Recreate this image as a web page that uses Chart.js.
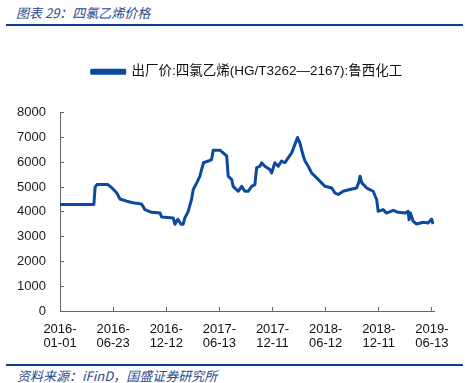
<!DOCTYPE html>
<html>
<head>
<meta charset="utf-8">
<script src="https://cdn.jsdelivr.net/npm/chart.js@4/dist/chart.umd.min.js"></script>
<style>
  body { margin: 0; width: 465px; height: 383px; background: #fff; position: relative; overflow: hidden; }
  .title { position: absolute; left: 16px; top: 3px; font: italic 13px "Noto Sans CJK SC", sans-serif; color: #2a4a8c; white-space: nowrap; }
  .rule { position: absolute; left: 6px; width: 457px; height: 2px; background: #0a3f94; }
  .source { position: absolute; left: 17px; top: 366px; font: italic 13px "Noto Sans CJK SC", sans-serif; color: #2a4a8c; white-space: nowrap; }
  .wrap { position: absolute; left: 0; top: 30px; width: 465px; height: 331px; }
</style>
</head>
<body>
<div class="title">图表 29：四氯乙烯价格</div>
<div class="rule" style="top:24px"></div>
<div class="wrap"><canvas id="chart"></canvas></div>
<div class="rule" style="top:364px"></div>
<div class="source">资料来源：iFinD，国盛证券研究所</div>

<script>
// rótulos do eixo x (espaçados igualmente no original)
const tickDates = ['2016-01-01', '2016-06-23', '2016-12-12', '2017-06-13', '2017-12-11', '2018-06-12', '2018-12-11', '2019-06-13'];
const tickLabels = tickDates.map(d => [d.slice(0, 5), d.slice(5)]);

const seriesName = '出厂价:四氯乙烯(HG/T3262—2167):鲁西化工';

const dates = [
  '2016-01-01', '2016-04-21', '2016-04-25', '2016-05-01', '2016-06-06', '2016-06-18', '2016-07-05', '2016-07-15',
  '2016-08-06', '2016-08-26', '2016-09-23', '2016-10-04', '2016-10-26', '2016-11-22', '2016-11-27',
  '2017-01-05', '2017-01-11', '2017-01-21', '2017-02-01', '2017-02-08', '2017-02-14', '2017-02-25',
  '2017-03-09', '2017-03-15', '2017-03-27', '2017-04-07', '2017-04-19', '2017-05-06', '2017-05-17', '2017-05-23',
  '2017-06-15', '2017-06-26', '2017-07-08', '2017-07-13', '2017-07-25', '2017-07-30', '2017-08-16', '2017-08-28',
  '2017-09-08', '2017-09-19', '2017-10-01', '2017-10-12', '2017-10-18', '2017-10-29', '2017-11-04', '2017-11-15',
  '2017-12-02', '2017-12-08', '2017-12-19', '2017-12-31', '2018-01-11', '2018-01-23', '2018-02-03', '2018-02-15',
  '2018-02-26', '2018-03-07', '2018-03-15', '2018-03-27', '2018-04-02', '2018-04-13', '2018-04-25', '2018-05-12',
  '2018-05-29', '2018-06-10', '2018-07-03', '2018-07-14', '2018-07-25', '2018-08-11', '2018-09-03', '2018-09-26',
  '2018-10-04', '2018-10-08', '2018-10-14', '2018-10-31', '2018-11-22', '2018-12-04', '2018-12-09', '2018-12-26',
  '2019-01-07', '2019-01-30', '2019-02-16', '2019-03-12', '2019-03-23', '2019-03-26', '2019-03-31', '2019-04-09',
  '2019-04-21', '2019-05-14', '2019-05-31', '2019-06-12', '2019-06-17'
];

const prices = [
  4300, 4300, 5000, 5100, 5100, 4980, 4760, 4520,
  4430, 4370, 4320, 4090, 3980, 3950, 3790,
  3750, 3500, 3700, 3500, 3500, 3750, 4000,
  4490, 4900, 5170, 5440, 5980, 6050, 6110, 6490,
  6490, 6380, 6250, 5440, 5300, 5030, 4830, 5030,
  4830, 4830, 5030, 5100, 5780, 5840, 5980, 5840,
  5710, 5570, 5980, 5840, 6050, 5980, 6180, 6380,
  6720, 7000, 6790, 6250, 6050, 5840, 5570, 5370,
  5170, 5030, 4960, 4760, 4700, 4830, 4900, 4960,
  5200, 5440, 5170, 4960, 4830, 4490, 4020, 4090,
  3950, 4060, 3980, 3950, 4020, 3680, 3950, 3620,
  3510, 3580, 3550, 3710, 3510
];

const yTicks = [0, 1000, 2000, 3000, 4000, 5000, 6000, 7000, 8000];

// converte a data para a posição no eixo (índice do rótulo, interpolado)
function dateToPos(str) {
  const t = Date.parse(str);
  const tt = tickDates.map(d => Date.parse(d));
  let k = 0;
  while (k < tt.length - 2 && t > tt[k + 1]) k++;
  return k + (t - tt[k]) / (tt[k + 1] - tt[k]);
}

const points = dates.map((d, i) => ({ x: dateToPos(d), y: prices[i] }));

const axisColor = '#666';
const fontLatin = '"Liberation Sans", Arial, "Noto Sans CJK SC", sans-serif';

new Chart(document.getElementById('chart'), {
  type: 'line',
  data: {
    datasets: [{
      label: seriesName,
      data: points,
      borderColor: '#0b4a9f',
      backgroundColor: '#0b4a9f',
      borderWidth: 3,
      pointRadius: 0,
      tension: 0,
      borderJoinStyle: 'round'
    }]
  },
  options: {
    responsive: true,
    maintainAspectRatio: false,
    animation: false,
    layout: { padding: { top: 23, right: 31, left: 0, bottom: 0 } },
    plugins: {
      legend: {
        position: 'top',
        fullSize: false,
        labels: {
          boxWidth: 33,
          boxHeight: 3,
          padding: 12,
          color: '#111',
          font: { family: fontLatin, size: 13.5 }
        }
      },
      // espaço vazio entre a legenda e o gráfico
      subtitle: {
        display: true,
        text: '',
        weight: 500,
        fullSize: false,
        font: { size: 1 },
        padding: { top: 0, bottom: 23 }
      },
      tooltip: { enabled: false }
    },
    scales: {
      x: {
        type: 'linear',
        min: 0,
        max: 7.04,
        afterBuildTicks: scale => {
          scale.ticks = tickLabels.map((l, i) => ({ value: i }));
        },
        afterFit: scale => { scale.height = 50; },
        border: { color: axisColor, width: 1 },
        grid: { drawOnChartArea: false, tickLength: -4, color: axisColor },
        ticks: {
          autoSkip: false,
          maxRotation: 0,
          padding: 15,
          color: '#111',
          font: { family: fontLatin, size: 13, lineHeight: 1.1 },
          callback: v => tickLabels[v]
        }
      },
      y: {
        min: 0,
        max: 8000,
        afterBuildTicks: scale => {
          scale.ticks = yTicks.map(v => ({ value: v }));
        },
        afterFit: scale => { scale.width = 60; },
        border: { color: axisColor, width: 1 },
        grid: { drawOnChartArea: false, tickLength: -4, color: axisColor },
        ticks: {
          padding: 18,
          color: '#1a1a1a',
          font: { family: fontLatin, size: 13 },
          callback: v => String(v)
        }
      }
    }
  }
});
</script>
</body>
</html>
